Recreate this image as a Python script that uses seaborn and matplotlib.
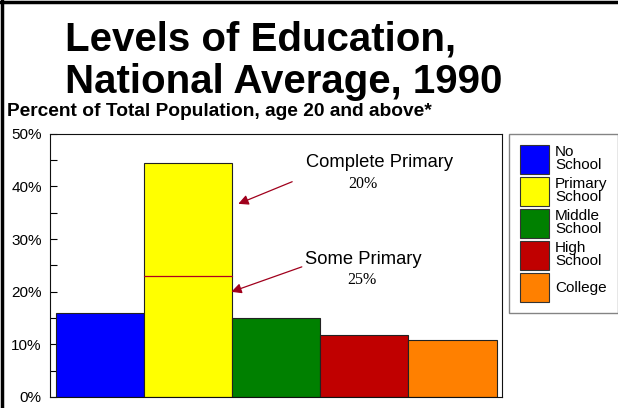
import matplotlib
matplotlib.use("Agg")
import matplotlib.pyplot as plt
import seaborn as sns
import pandas as pd
from matplotlib.patches import Patch
from matplotlib.lines import Line2D
from matplotlib.ticker import MultipleLocator, PercentFormatter

# data
levels = ["No School", "Primary School", "Middle School", "High School", "College"]
legend_labels = ["No\nSchool", "Primary\nSchool", "Middle\nSchool", "High\nSchool", "College"]
percents = [16.0, 44.5, 15.0, 11.8, 10.8]
some_primary = 23.0
notes = ["Complete Primary", "Some Primary"]
note_values = ["20%", "25%"]
colors = ["#0000ff", "#ffff00", "#008000", "#c00000", "#ff8000"]

sns.set_style("white")
plt.rcParams["font.family"] = ["Liberation Sans", "DejaVu Sans"]
for key in ["text.color", "axes.labelcolor", "xtick.color", "ytick.color"]:
    plt.rcParams[key] = "black"

df = pd.DataFrame({"level": levels, "pct": percents})

fig = plt.figure(figsize=(6.18, 4.08), dpi=100)
ax = fig.add_axes([0.081, 0.027, 0.731, 0.645])

sns.barplot(data=df, x="level", y="pct", hue="level", palette=colors,
            saturation=1, width=1.0, edgecolor="#222222", linewidth=0.8,
            legend=False, ax=ax)

# split line inside primary bar
ax.plot([0.5, 1.5], [some_primary, some_primary], color="#b00020", lw=0.9)

ax.set_xlim(-0.567, 4.56)
ax.set_ylim(0, 50)
ax.yaxis.set_major_locator(MultipleLocator(10))
ax.yaxis.set_minor_locator(MultipleLocator(5))
ax.yaxis.set_major_formatter(PercentFormatter(decimals=0))
ax.set_xticks([2])
ax.set_xticklabels([])
ax.set_xlabel("")
ax.set_ylabel("")
ax.tick_params(axis="y", which="both", direction="in", length=5, width=0.8,
               left=True, labelsize=11, pad=6)
ax.tick_params(axis="x", direction="in", length=5, width=0.8, bottom=True)
for s in ax.spines.values():
    s.set_color("#111111")
    s.set_linewidth(0.8)

# annotations
arrow = dict(arrowstyle="-|>", color="#a0001c", lw=0.9, mutation_scale=15)
ax.annotate("", xy=(1.54, 36.5), xytext=(2.21, 41.1), arrowprops=arrow)
ax.annotate("", xy=(1.46, 19.8), xytext=(2.32, 24.9), arrowprops=arrow)
ax.text(3.17, 44.6, notes[0], ha="center", va="center", fontsize=13.2)
ax.text(2.98, 40.4, note_values[0], ha="center", va="center", fontsize=11.5,
        family="Liberation Serif")
ax.text(2.99, 26.2, notes[1], ha="center", va="center", fontsize=13.2)
ax.text(2.97, 22.2, note_values[1], ha="center", va="center", fontsize=11.5,
        family="Liberation Serif")

# titles
fig.text(0.105, 0.877, "Levels of Education,", fontsize=29, fontweight="bold",
         ha="left", va="baseline")
fig.text(0.105, 0.772, "National Average, 1990", fontsize=29, fontweight="bold",
         ha="left", va="baseline")
fig.text(0.012, 0.715, "Percent of Total Population, age 20 and above*",
         fontsize=13.8, fontweight="bold", ha="left", va="baseline")

# legend
handles = [Patch(facecolor=c, edgecolor="#333333", lw=0.8) for c in colors]
leg = fig.legend(handles, legend_labels, loc="upper left",
                 bbox_to_anchor=(0.824, 0.672), frameon=True, fancybox=False,
                 fontsize=11, handlelength=1.9, handleheight=2.55,
                 labelspacing=0.2, handletextpad=0.4, borderpad=0.7,
                 borderaxespad=0)
leg.get_frame().set_edgecolor("#666666")
leg.get_frame().set_linewidth(1.0)
for t in leg.get_texts():
    t.set_linespacing(0.95)

# frame on top and left of the figure
fig.add_artist(Line2D([0, 1], [0.995, 0.995], color="black", lw=2.5))
fig.add_artist(Line2D([0.003, 0.003], [0, 1], color="black", lw=2.5))

fig.savefig("out.png", dpi=100)
